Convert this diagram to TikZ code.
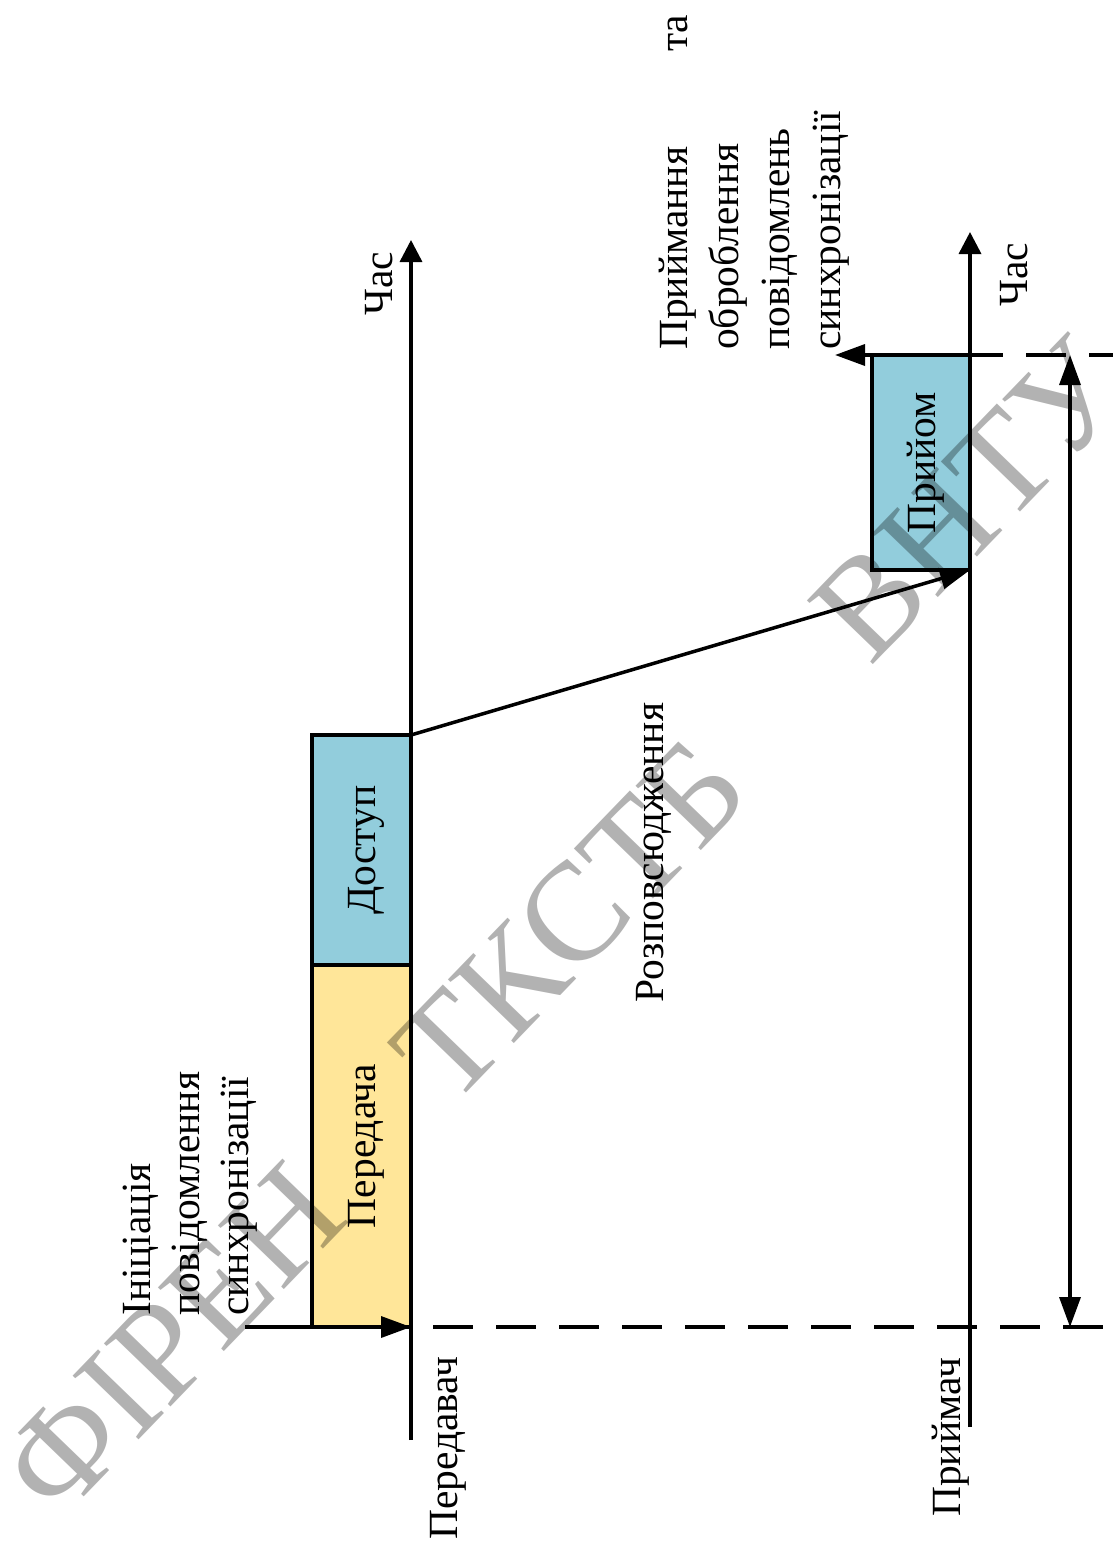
\documentclass[tikz,border=0pt]{standalone}
\usepackage{fontspec}
\setmainfont{Liberation Serif}
\usetikzlibrary{arrows.meta}
\definecolor{yel}{HTML}{FFE699}
\definecolor{blu}{HTML}{92CDDC}
\begin{document}
\begin{tikzpicture}[x=1pt,y=-1pt,
  txt/.style={font=\fontsize{41.5}{50}\selectfont, inner sep=0pt, rotate=90, anchor=base west},
  ln/.style={line width=3.5pt},
  stagebox/.style={draw, line width=3.5pt, rotate=90, inner sep=0pt, outer sep=0pt,
    font=\fontsize{41.5}{50}\selectfont, text depth=0pt},
  axisarrow/.style={-{Triangle[length=22pt,width=22pt]}},
  arr/.style={-{Triangle[length=30pt,width=21pt]}},
  dbl/.style={{Triangle[length=30pt,width=21pt]}-{Triangle[length=30pt,width=21pt]}},
  dsh/.style={line width=3.5pt, dash pattern=on 40pt off 23pt},
  wm/.style={font=\fontsize{140}{140}\selectfont, text=black, text opacity=0.3, rotate=46, inner sep=0pt}
]
\useasboundingbox (0,0) rectangle (1113,1550);

% stage boxes
\node[stagebox, fill=yel, minimum width=362pt, minimum height=99pt] (tx) at (361.5,1146) {Передача};
\node[stagebox, fill=blu, minimum width=230pt, minimum height=99pt] (acc) at (361.5,850) {Доступ};
\node[stagebox, fill=blu, minimum width=215pt, minimum height=98pt] (rx) at (921,462.5) {Прийом};

% axes
\coordinate (t0) at (411,1440);
\coordinate (t1) at (411,240);
\coordinate (r0) at (970,1427);
\coordinate (r1) at (970,232);
\draw[ln, axisarrow] (t0) -- (t1);
\draw[ln, axisarrow] (r0) -- (r1);

% dashed reference lines
\coordinate (d0) at (433,1327);
\coordinate (d1) at (1113,1327);
\coordinate (e0) at (963,355);
\coordinate (e1) at (1113,355);
\draw[dsh] (d0) -- (d1);
\draw[dsh] (e0) -- (e1);

% connectors
\coordinate (ini) at (245,1327);
\draw[ln, arr] (ini) -- (tx.south west);
\draw[ln, arr] (acc.south east) -- (rx.south west);
\coordinate (outp) at (835,355);
\draw[ln, arr] (rx.south east) -- (outp);
\coordinate (m0) at (1070,355);
\coordinate (m1) at (1070,1327);
\draw[ln, dbl] (m0) -- (m1);

% labels
\node[txt] (tchas) at (392,316) {Час};
\node[txt] (rchas) at (1027,307) {Час};
\node[txt] (tname) at (457,1540) {Передавач};
\node[txt] (rname) at (960,1517) {Приймач};
\node[txt] (prop) at (663,1003) {Розповсюдження};
\node[txt] (i1) at (150,1316) {Ініціація};
\node[txt] (i2) at (199,1316) {повідомлення};
\node[txt] (i3) at (248,1316) {синхронізації};
\node[txt] (o1) at (687,350) {\hbox to 335pt{Приймання\hfill та}};
\node[txt] (o2) at (738,350) {оброблення};
\node[txt] (o3) at (789,350) {повідомлень};
\node[txt] (o4) at (840,350) {синхронізації};

% watermark
\node[wm] (w1) at (172,1340) {ФІРЕН};
\node[wm] (w2) at (570,920) {ТКСТБ};
\node[wm] (w3) at (970,500) {ВНТУ};
\end{tikzpicture}
\end{document}
